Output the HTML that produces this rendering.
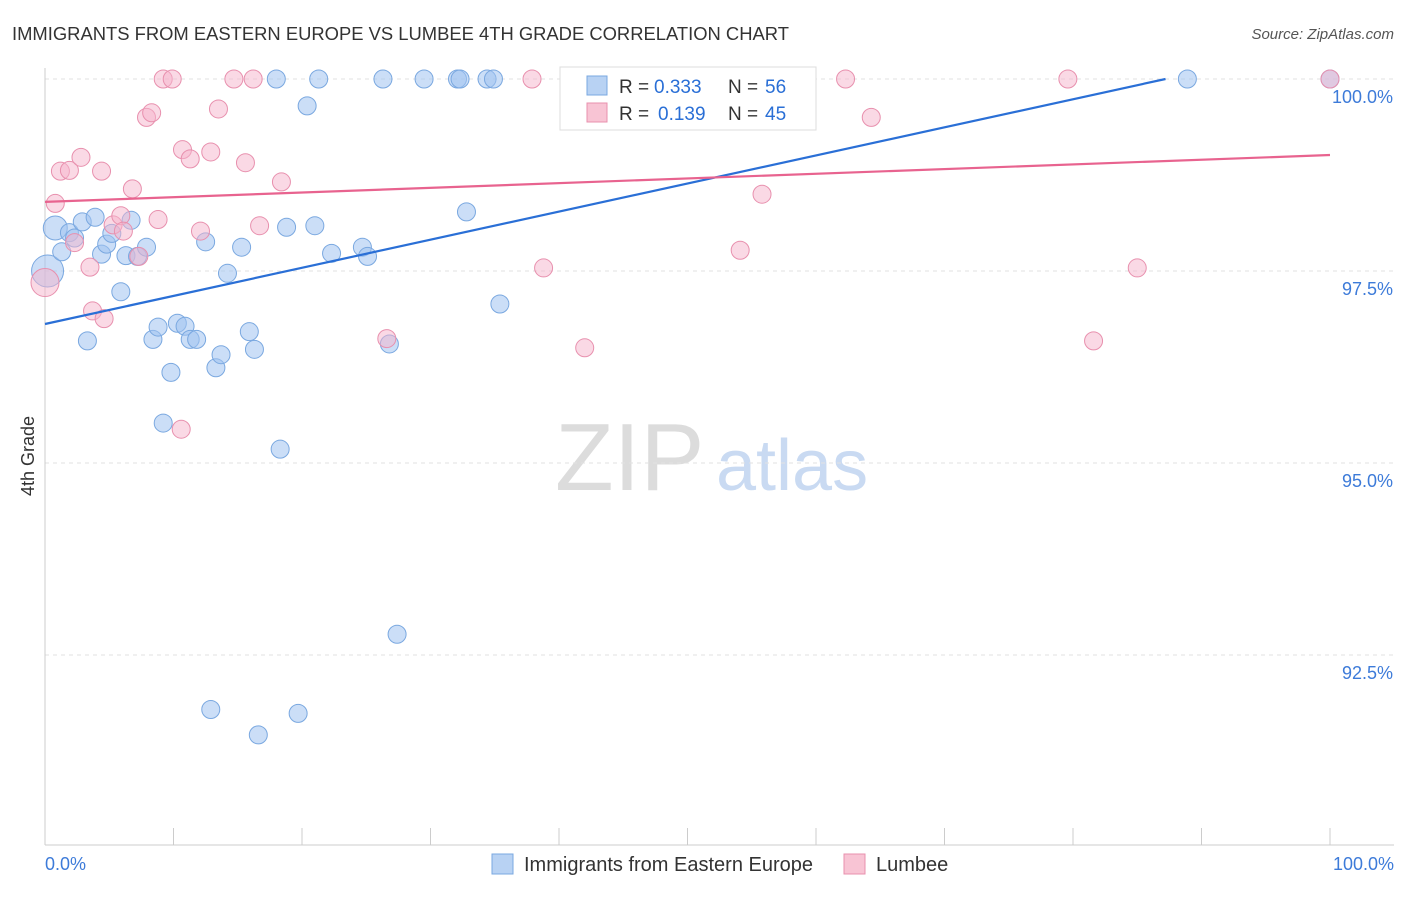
<!DOCTYPE html>
<html><head><meta charset="utf-8"><style>
body{margin:0;background:#fff;font-family:"Liberation Sans",sans-serif;}
svg text{font-family:"Liberation Sans",sans-serif;}
</style></head><body>
<svg id="chart" width="1406" height="892" viewBox="0 0 1406 892" xmlns="http://www.w3.org/2000/svg">
<text x="12" y="40" font-size="18.4" fill="#333">IMMIGRANTS FROM EASTERN EUROPE VS LUMBEE 4TH GRADE CORRELATION CHART</text>
<text x="1394" y="39" font-size="15" fill="#555" font-style="italic" text-anchor="end">Source: ZipAtlas.com</text>
<text x="555" y="490" font-size="96" fill="#dcdcdc" font-family="Liberation Serif,serif">ZIP</text>
<text x="716" y="490" font-size="72" fill="#c9daf2">atlas</text>
<text transform="translate(34,456) rotate(-90)" font-size="18" fill="#333" text-anchor="middle">4th Grade</text>
<g id="grid"></g>
<g id="axes"></g>
<g id="pts"></g>
<g id="lines"></g>
<g>
<rect x="560" y="67" width="256" height="63" fill="#fff" stroke="#ddd"/>
<rect x="587" y="76" width="20" height="19" fill="#b8d2f3" stroke="#7aa8e0"/>
<text x="619" y="93" font-size="19" fill="#333">R =</text>
<text x="654" y="93" font-size="19" fill="#2a6fd6">0.333</text>
<text x="728" y="93" font-size="19" fill="#333">N =</text>
<text x="765" y="93" font-size="19" fill="#2a6fd6">56</text>
<rect x="587" y="103" width="20" height="19" fill="#f8c4d4" stroke="#e890ae"/>
<text x="619" y="120" font-size="19" fill="#333">R =</text>
<text x="658" y="120" font-size="19" fill="#2a6fd6">0.139</text>
<text x="728" y="120" font-size="19" fill="#333">N =</text>
<text x="765" y="120" font-size="19" fill="#2a6fd6">45</text>
</g>
<g>
<rect x="492" y="854" width="21" height="20" fill="#b8d2f3" stroke="#7aa8e0"/>
<text x="524" y="871" font-size="20" fill="#333">Immigrants from Eastern Europe</text>
<rect x="844" y="854" width="21" height="20" fill="#f8c4d4" stroke="#e890ae"/>
<text x="876" y="871" font-size="20" fill="#333">Lumbee</text>
</g>
</svg>
<script>
const xTicks=[0,10,20,30,40,50,60,70,80,90,100];
const yTicks=[100,97.5,95,92.5];
const yTickLabels=["100.0%","97.5%","95.0%","92.5%"];
const blueX=[0.8,0.2,1.3,1.9,2.3,2.9,3.9,4.4,4.8,5.2,6.3,6.7,7.2,7.9,5.9,3.3,8.4,8.8,10.3,10.9,11.3,11.8,9.8,13.3,13.7,12.5,14.2,15.3,15.9,16.3,18.8,21.0,22.3,24.7,25.1,9.2,18.3,32.8,35.4,26.8,27.4,12.9,19.7,16.6,20.4,18.0,21.3,26.3,29.5,32.1,32.3,34.4,34.9,88.9,100.0];
const blueY=[98.06,97.5,97.75,98.0,97.93,98.14,98.2,97.72,97.85,97.99,97.7,98.16,97.69,97.81,97.23,96.59,96.61,96.77,96.82,96.78,96.61,96.61,96.18,96.24,96.41,97.88,97.47,97.81,96.71,96.48,98.07,98.09,97.73,97.81,97.69,95.52,95.18,98.27,97.07,96.55,92.77,91.79,91.74,91.46,99.65,100,100,100,100,100,100,100,100,100,100];
const blueR=[12,16,9,9,9,9,9,9,9,9,9,9,9,9,9,9,9,9,9,9,9,9,9,9,9,9,9,9,9,9,9,9,9,9,9,9,9,9,9,9,9,9,9,9,9,9,9,9,9,9,9,9,9,9,9];
const pinkX=[0,0.8,1.2,1.9,2.8,4.4,3.5,2.3,3.7,4.6,6.8,5.3,5.9,6.1,7.3,7.9,8.3,8.8,9.2,9.9,10.6,10.7,11.3,12.1,12.9,13.5,14.7,15.6,16.2,16.7,18.4,26.6,38.8,42.0,37.9,54.1,55.8,52.1,62.3,64.3,79.6,81.6,85.0,100];
const pinkY=[97.35,98.38,98.8,98.81,98.98,98.8,97.55,97.87,96.98,96.88,98.57,98.1,98.22,98.02,97.69,99.5,99.56,98.17,100,100,95.44,99.08,98.96,98.02,99.05,99.61,100,98.91,100,98.09,98.66,96.62,97.54,96.5,100,97.77,98.5,100,100,99.5,100,96.59,97.54,100];
const pinkR=[14,9,9,9,9,9,9,9,9,9,9,9,9,9,9,9,9,9,9,9,9,9,9,9,9,9,9,9,9,9,9,9,9,9,9,9,9,9,9,9,9,9,9,9];
const blueLine=[96.81,100];const blueLineEnd=87.2;
const pinkLine=[98.4,99.01];
const NS="http://www.w3.org/2000/svg";
const X=v=>45+v*12.85, Y=v=>79+(100-v)*76.8;
function mk(tag,attrs,parent){const e=document.createElementNS(NS,tag);for(const k in attrs)e.setAttribute(k,attrs[k]);document.getElementById(parent).appendChild(e);return e;}
yTicks.forEach((t,i)=>{
 const l=mk('line',{x1:45,x2:1394,y1:Y(t),y2:Y(t),stroke:'#e2e2e2','stroke-dasharray':'4,4'},'grid');
 
 
 const tx=mk('text',{x:1393,y:Y(t)+24,'font-size':18,fill:'#3d7bd9','text-anchor':'end'},'grid');
 tx.textContent=yTickLabels[i];
 
 
});
const ax=mk('line',{x1:45,x2:45,y1:68,y2:845,stroke:'#ccc'},'axes');


const bx=mk('line',{x1:45,x2:1394,y1:845,y2:845,stroke:'#ccc'},'axes');


xTicks.forEach(t=>{
 const l=mk('line',{x1:X(t),x2:X(t),y1:828,y2:845,stroke:'#ccc'},'axes');
 
 
});
[[0,'0.0%','start',45],[100,'100.0%','end',1394]].forEach(a=>{
 const t=mk('text',{x:a[3],y:870,'font-size':18,fill:'#3d7bd9','text-anchor':a[2]},'axes');
 t.textContent=a[1];
 
 
});
blueX.forEach((v,i)=>{
 const c=mk('circle',{cx:X(v),cy:Y(blueY[i]),r:blueR[i],fill:'rgba(160,195,240,0.55)',stroke:'#7aa8e0','stroke-width':1},'pts');
 
 
});
pinkX.forEach((v,i)=>{
 const c=mk('circle',{cx:X(v),cy:Y(pinkY[i]),r:pinkR[i],fill:'rgba(245,180,204,0.5)',stroke:'#e890ae','stroke-width':1},'pts');
 
 
});
const slope=(blueLine[1]-blueLine[0])/blueLineEnd;
const bl=mk('line',{x1:X(0),y1:Y(blueLine[0]),x2:X(blueLineEnd),y2:Y(blueLine[0]+slope*blueLineEnd),stroke:'#2a6fd6','stroke-width':2.2},'lines');


const pl=mk('line',{x1:X(0),y1:Y(pinkLine[0]),x2:X(100),y2:Y(pinkLine[1]),stroke:'#e8638f','stroke-width':2.2},'lines');


</script>
</body></html>
